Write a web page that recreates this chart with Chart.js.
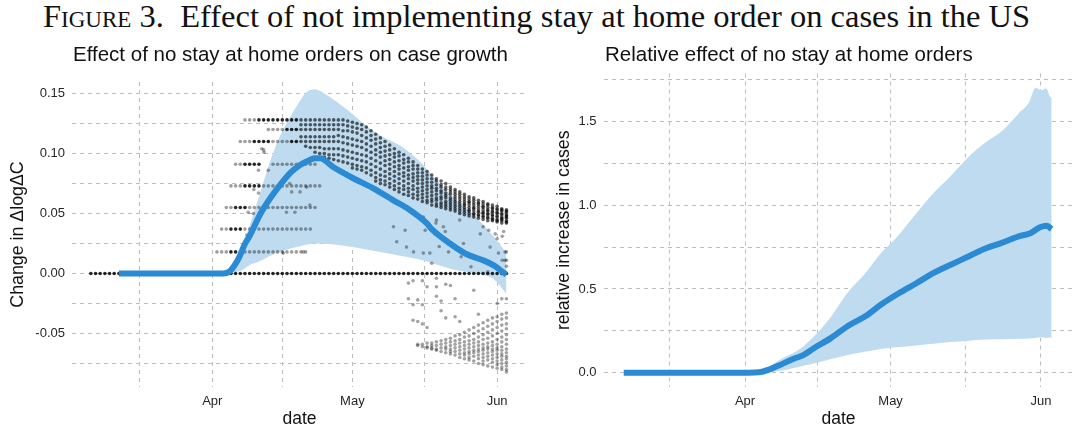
<!DOCTYPE html>
<html>
<head>
<meta charset="utf-8">
<script src="https://cdn.jsdelivr.net/npm/chart.js@4.4.0/dist/chart.umd.min.js"></script>
<style>
  html, body { margin: 0; padding: 0; background: #fff; }
  #page { position: relative; width: 1077px; height: 428px; overflow: hidden; }
  #fig-title { position: absolute; left: 43px; top: 2px; font-family: "Liberation Serif", "Times New Roman", serif; color: #111; white-space: nowrap; line-height: 1; }
  .sc { font-variant: small-caps; }
  .panel { position: absolute; top: 0; height: 428px; }
</style>
</head>
<body>
<div id="page">
  <div id="fig-title"><span class="sc">Figure</span> 3.&nbsp; Effect of not implementing stay at home order on cases in the US</div>
  <div class="panel" style="left:0;width:540px"><canvas id="growth-chart" width="540" height="428"></canvas></div>
  <div class="panel" style="left:540px;width:537px"><canvas id="relative-chart" width="537" height="428"></canvas></div>
</div>
<script>
// x values are day numbers counted from 1 March 2020 (Apr 1 = 31, May 1 = 61, Jun 1 = 92)
const dateTicks = [15.5, 31, 46, 61, 76.5, 92];
const dateLabels = ['', 'Apr', '', 'May', '', 'Jun'];

const growthYTicks = [-0.075, -0.05, -0.025, 0, 0.025, 0.05, 0.075, 0.1, 0.125, 0.15];
const growthYLabels = ['', '-0.05', '', '0.00', '', '0.05', '', '0.10', '', '0.15'];
const relYTicks = [0, 0.25, 0.5, 0.75, 1, 1.25, 1.5, 1.75];
const relYLabels = ['0.0', '', '0.5', '', '1.0', '', '1.5', ''];

// left panel: mean effect on growth and its band
const growthMeanDays = [11, 20, 30, 33.4, 34.8, 35.9, 36.9, 37.9, 39.1, 41.2, 43.4, 45.5, 47.6, 49.8, 51.9, 53, 54.1, 56.8, 61.1, 65.4, 69.7, 73.3, 76.9, 78, 81.9, 85.5, 89, 91.2, 92.6, 94];
const growthMean = [0, 0, 0, 0, 0.002, 0.0075, 0.0146, 0.024, 0.032, 0.049, 0.0627, 0.0737, 0.0835, 0.0904, 0.0946, 0.096, 0.096, 0.089, 0.0796, 0.0712, 0.0612, 0.053, 0.042, 0.037, 0.025, 0.016, 0.011, 0.007, 0.003, -0.001];
const growthBandDays = [33, 35, 37, 39, 41, 43, 45, 47, 49, 51, 53, 55, 58, 61, 64, 67, 71, 75, 79, 83, 87, 91, 94];
const growthBandHigh = [0, 0.005, 0.018, 0.040, 0.064, 0.089, 0.110, 0.126, 0.139, 0.1505, 0.1535, 0.150, 0.142, 0.133, 0.123, 0.115, 0.107, 0.095, 0.078, 0.062, 0.049, 0.032, 0.017];
const growthBandLow = [0, 0.001, 0.002, 0.007, 0.010, 0.014, 0.0175, 0.020, 0.022, 0.024, 0.025, 0.0248, 0.0237, 0.022, 0.020, 0.018, 0.015, 0.012, 0.0075, 0.003, 0.0005, -0.004, -0.017];

// state estimates (thousandths), rows of equal value: [value, first day, last day]
const darkRows = [[0, 5, 94], [128, 41, 49], [120, 47, 49], [110, 40, 43], [110, 48, 49], [91, 38, 41], [73, 38, 41], [55, 36, 38], [37, 35, 37], [18, 35, 36]];
const lightRows = [[128, 38, 40], [120, 43, 46], [110, 37, 39], [110, 44, 47], [91, 36, 37], [91, 44, 49], [91, 51, 53], [73, 35, 37], [73, 42, 54], [55, 34, 35], [55, 39, 53], [37, 33, 34], [37, 38, 52], [18, 32, 34], [18, 37, 51]];

// the declining cloud of state estimates, one column per day
const cloudDays = [50, 51, 52, 53, 54, 55, 56, 57, 58, 59, 60, 61, 62, 63, 64, 65, 66, 67, 68, 69, 70, 71, 72, 73, 74, 75, 76, 77, 78, 79, 80, 81, 82, 83, 84, 85, 86, 87, 88, 89, 90, 91, 92, 93, 94];
const cloudValues = [
  [128, 124, 120, 114, 110],
  [128, 124, 120, 114, 110, 106],
  [128, 124, 120, 114, 110, 105],
  [128, 124, 120, 114, 110, 105, 101],
  [128, 124, 120, 114, 110, 105, 100],
  [128, 124, 120, 114, 110, 104, 100, 97],
  [128, 124, 120, 114, 110, 104, 99, 96],
  [128, 124, 120, 114, 110, 104, 99, 95],
  [128, 124, 120, 115, 110, 104, 99, 94],
  [128, 124, 119, 114, 109, 103, 98, 93],
  [127, 123, 119, 113, 108, 102, 97, 92],
  [126, 122, 118, 112, 107, 101, 96, 91, 88],
  [125, 121, 117, 111, 106, 100, 95, 90, 87],
  [124, 120, 115, 110, 105, 99, 94, 89, 86],
  [122, 118, 113, 108, 103, 98, 93, 88, 84],
  [119, 115, 111, 106, 101, 96, 91, 86, 82],
  [116, 112, 108, 103, 99, 94, 89, 84, 80, 77],
  [113, 109, 105, 101, 97, 92, 87, 82, 78, 75],
  [110, 106, 102, 98, 94, 90, 85, 81, 77, 74],
  [107, 103, 99, 95, 91, 87, 83, 79, 75, 72],
  [104, 100, 97, 93, 89, 85, 81, 77, 73, 70],
  [101, 98, 94, 90, 87, 83, 79, 75, 71, 68],
  [99, 95, 92, 88, 84, 81, 77, 73, 70, 66],
  [96, 93, 89, 86, 82, 79, 75, 71, 68, 65],
  [93, 90, 87, 83, 80, 77, 73, 70, 66, 63],
  [90, 87, 84, 81, 78, 75, 71, 68, 65, 62],
  [87, 84, 81, 78, 75, 72, 69, 66, 63, 60],
  [85, 82, 79, 76, 73, 70, 67, 64, 61, 59],
  [82, 79, 76, 73, 71, 68, 65, 62, 60, 57],
  [79, 77, 74, 71, 69, 66, 63, 61, 58, 56],
  [77, 74, 72, 69, 67, 64, 62, 59, 57, 55],
  [75, 72, 70, 67, 65, 63, 60, 58, 56, 54],
  [72, 70, 68, 66, 63, 61, 59, 57, 55, 53],
  [70, 68, 66, 64, 62, 60, 58, 56, 54, 52],
  [68, 66, 64, 62, 60, 58, 56, 54, 52, 50],
  [66, 64, 62, 60, 58, 57, 55, 53, 51, 49],
  [64, 62, 60, 59, 57, 55, 53, 52, 50, 48],
  [63, 61, 59, 57, 55, 54, 52, 50, 49, 47],
  [61, 59, 58, 56, 54, 52, 51, 49, 48, 46],
  [60, 58, 56, 55, 53, 51, 50, 48, 47, 45],
  [58, 57, 55, 53, 52, 50, 49, 47, 46, 44],
  [57, 55, 54, 52, 51, 49, 48, 46, 45, 44],
  [56, 54, 53, 51, 50, 48, 47, 45, 44, 43],
  [54, 53, 52, 50, 49, 47, 46, 45, 44, 42],
  [53, 52, 51, 49, 48, 47, 46, 44, 43, 42]
];

// negative estimates late in the sample, one column per day
const negDays = [73, 74, 75, 76, 77, 78, 79, 80, 81, 82, 83, 84, 85, 86, 87, 88, 89, 90, 91, 92, 93, 94];
const negValues = [
  [-21, -8],
  [-39, -26, -6],
  [-22, -40, -59, -60],
  [-26, -42, -59, -61, -6],
  [-45, -58, -61, -62, -11],
  [-58, -60, -62, -63],
  [-4, -19, -57, -60, -63, -64, -11],
  [-23, -31, -56, -59, -62, -65],
  [-9, -37, -55, -58, -61, -63, -66],
  [-54, -57, -60, -63, -65, -67, -10],
  [-21, -36, -52, -56, -59, -62, -65, -68],
  [-40, -51, -55, -58, -61, -64, -67, -70],
  [-49, -53, -57, -60, -63, -66, -68, -71],
  [-47, -52, -56, -59, -62, -65, -67, -70, -72],
  [-14, -45, -50, -55, -58, -61, -64, -66, -69, -73],
  [-34, -43, -48, -53, -57, -60, -63, -65, -68, -71, -75],
  [-41, -46, -51, -55, -59, -62, -64, -67, -70, -73, -76],
  [-39, -44, -49, -54, -58, -61, -63, -66, -69, -72, -77],
  [-37, -42, -47, -52, -57, -60, -63, -65, -68, -71, -74, -78],
  [-25, -36, -40, -45, -50, -55, -59, -62, -64, -67, -70, -73, -76, -79],
  [-21, -34, -38, -43, -48, -53, -57, -61, -64, -67, -69, -72, -75, -78, -80],
  [-21, -33, -37, -42, -46, -51, -55, -59, -63, -66, -69, -71, -74, -77, -80, -82]
];

// scattered single estimates: [day, value in thousandths]
const strayDots = [
  [41.6, 104], [42.1, 101], [40.9, 86], [39.9, 70], [40.9, 67], [38.7, 51], [39.8, 50], [38.4, 32], [39.1, 31],
  [47.6, 75], [51.2, 72], [42, 103], [43, 86], [48, 68], [49.8, 68], [46.9, 51], [48.7, 51], [51.9, 57], [50.5, 18], [46.2, 17],
  [72.3, 36], [69.8, 39], [76.2, 47], [79, 44.5], [84, 44.5], [88.4, 33], [76.2, 17], [74.1, 18], [78, 8.5], [81.6, 18],
  [84.8, 25], [90.5, 22], [92.3, 17], [93.7, 11], [94, 6], [70.5, 26.5], [72.6, 22], [78.7, 33], [80.5, 39], [89, 39],
  [91.6, 33], [93.4, 35], [93.7, 18], [76.6, 36], [78.9, 42], [79.6, 22.5], [80.9, 35], [90.2, 36], [92, 29], [93.1, 31],
  [94, 18], [94, 11], [93.1, 11], [77.6, 17], [84.3, 14], [86.4, 5.6], [90, 1.5]
];

// right panel: relative increase in cases
const relMeanDays = [6, 30, 33, 34.5, 36.6, 38.5, 40.9, 43, 45.1, 48.6, 52.2, 55.7, 59.2, 62.7, 66.3, 69.8, 73.3, 76.8, 80.4, 83.9, 87.7, 89.8, 91.8, 93.2, 94.2];
const relMean = [0, 0, 0.001, 0.006, 0.026, 0.05, 0.082, 0.105, 0.145, 0.205, 0.279, 0.335, 0.41, 0.474, 0.534, 0.594, 0.643, 0.69, 0.74, 0.775, 0.816, 0.832, 0.868, 0.877, 0.857];
const relBandDays = [33, 35, 38, 42, 45, 48.6, 52.2, 55.7, 59.2, 62, 66.3, 69.8, 73.3, 76.8, 80.4, 83.9, 87.5, 89.5, 90.9, 92, 93.1, 93.8, 94.2];
const relBandHigh = [0, 0.02, 0.075, 0.135, 0.21, 0.33, 0.48, 0.59, 0.72, 0.80, 0.95, 1.07, 1.17, 1.28, 1.37, 1.44, 1.55, 1.61, 1.70, 1.685, 1.695, 1.65, 1.64];
const relBandLow = [0, 0.002, 0.01, 0.035, 0.053, 0.08, 0.106, 0.125, 0.143, 0.152, 0.163, 0.173, 0.183, 0.19, 0.198, 0.2, 0.203, 0.205, 0.207, 0.212, 0.208, 0.21, 0.205];

const BLUE = '#2a8ad4';
const BAND = '#bedbf0';
const GRID = '#bdbdbd';

Chart.defaults.font.family = '"Liberation Sans", Arial, sans-serif';
Chart.defaults.color = '#262626';

// fit the figure caption to its width in the reference
(function () {
    const t = document.getElementById('fig-title');
    t.style.fontSize = '30px';
    const w = t.getBoundingClientRect().width;
    const fs = 30 * 987 / w;
    t.style.fontSize = fs + 'px';
    t.style.top = (27.5 - 0.8375 * fs) + 'px';
})();

function pairs(xs, ys) {
    return xs.map((x, i) => ({ x: x, y: ys[i] }));
}

function rowPoints(rows) {
    const pts = [];
    rows.forEach(([v, from, to]) => {
        for (let d = from; d <= to; d++) pts.push({ x: d, y: v / 1000 });
    });
    return pts;
}

function columnPoints(days, cols) {
    const pts = [];
    days.forEach((d, i) => cols[i].forEach(v => pts.push({ x: d, y: v / 1000 })));
    return pts;
}

// subtitle and axis titles, placed like the ggplot panels
const panelText = {
    id: 'panelText',
    afterDraw(chart, args, opts) {
        const { ctx, chartArea: a } = chart;
        ctx.save();
        ctx.fillStyle = '#111';
        ctx.font = '20.5px "Liberation Sans", Arial, sans-serif';
        ctx.textAlign = 'left';
        ctx.textBaseline = 'alphabetic';
        ctx.fillText(opts.title, a.left + 1, 61);
        ctx.font = '17.5px "Liberation Sans", Arial, sans-serif';
        ctx.textAlign = 'center';
        ctx.fillText('date', (a.left + a.right) / 2, 424);
        ctx.font = '17.8px "Liberation Sans", Arial, sans-serif';
        ctx.translate(opts.yTitleX, (a.top + a.bottom) / 2);
        ctx.rotate(-Math.PI / 2);
        ctx.textBaseline = 'middle';
        ctx.fillText(opts.yTitle, 0, 0);
        ctx.restore();
    }
};

function xScale(min, max) {
    return {
        type: 'linear', min: min, max: max,
        afterBuildTicks: s => { s.ticks = dateTicks.map(v => ({ value: v })); },
        afterFit: s => { s.height = 41; },
        ticks: { autoSkip: false, maxRotation: 0, padding: 7, font: { size: 13 }, callback: (v, i) => dateLabels[i] },
        grid: { color: GRID, lineWidth: 1, drawTicks: false },
        border: { display: false, dash: [4, 4] }
    };
}

function yScale(min, max, ticks, labels, width, pad) {
    return {
        type: 'linear', min: min, max: max,
        afterBuildTicks: s => { s.ticks = ticks.map(v => ({ value: v })); },
        afterFit: s => { s.width = width; },
        ticks: { autoSkip: false, padding: pad, font: { size: 13 }, callback: (v, i) => labels[i] },
        grid: { color: GRID, lineWidth: 1, drawTicks: false },
        border: { display: false, dash: [4, 4] }
    };
}

function dots(data, color) {
    return { type: 'scatter', data: data, pointRadius: 1.8, pointBorderWidth: 0, pointBackgroundColor: color, order: 1 };
}

new Chart(document.getElementById('growth-chart'), {
    type: 'line',
    data: {
        datasets: [
            { data: pairs(growthMeanDays, growthMean), borderColor: BLUE, borderWidth: 6, pointRadius: 0, cubicInterpolationMode: 'monotone', order: 0 },
            dots(rowPoints(darkRows), 'rgba(0,0,0,0.85)'),
            dots(columnPoints(cloudDays, cloudValues), 'rgba(0,0,0,0.62)'),
            dots(rowPoints(lightRows), 'rgba(0,0,0,0.38)'),
            dots(columnPoints(negDays, negValues), 'rgba(0,0,0,0.36)'),
            dots(strayDots.map(([d, v]) => ({ x: d, y: v / 1000 })), 'rgba(0,0,0,0.36)'),
            { data: pairs(growthBandDays, growthBandHigh), borderWidth: 0, pointRadius: 0, backgroundColor: BAND, fill: '+1', cubicInterpolationMode: 'monotone', order: 3 },
            { data: pairs(growthBandDays, growthBandLow), borderWidth: 0, pointRadius: 0, fill: false, cubicInterpolationMode: 'monotone', order: 3 }
        ]
    },
    options: {
        responsive: false,
        animation: false,
        layout: { padding: { top: 82, right: 13, left: 0, bottom: 0 } },
        scales: {
            x: xScale(0.96, 98.4),
            y: yScale(-0.0946, 0.1596, growthYTicks, growthYLabels, 72, 7)
        },
        plugins: {
            legend: { display: false },
            tooltip: { enabled: false },
            panelText: { title: 'Effect of no stay at home orders on case growth', yTitle: 'Change in \u0394log\u0394C', yTitleX: 18 }
        }
    },
    plugins: [panelText]
});

new Chart(document.getElementById('relative-chart'), {
    type: 'line',
    data: {
        datasets: [
            { data: pairs(relMeanDays, relMean), borderColor: BLUE, borderWidth: 6, pointRadius: 0, cubicInterpolationMode: 'monotone', order: 0 },
            { data: pairs(relBandDays, relBandHigh), borderWidth: 0, pointRadius: 0, backgroundColor: BAND, fill: '+1', cubicInterpolationMode: 'monotone', order: 3 },
            { data: pairs(relBandDays, relBandLow), borderWidth: 0, pointRadius: 0, fill: false, cubicInterpolationMode: 'monotone', order: 3 }
        ]
    },
    options: {
        responsive: false,
        animation: false,
        layout: { padding: { top: 73.5, right: 4, left: 0, bottom: 0 } },
        scales: {
            x: xScale(1.93, 98.6),
            y: yScale(-0.085, 1.785, relYTicks, relYLabels, 64, 7.5)
        },
        plugins: {
            legend: { display: false },
            tooltip: { enabled: false },
            panelText: { title: 'Relative effect of no stay at home orders', yTitle: 'relative increase in cases', yTitleX: 24 }
        }
    },
    plugins: [panelText]
});
</script>
</body>
</html>
